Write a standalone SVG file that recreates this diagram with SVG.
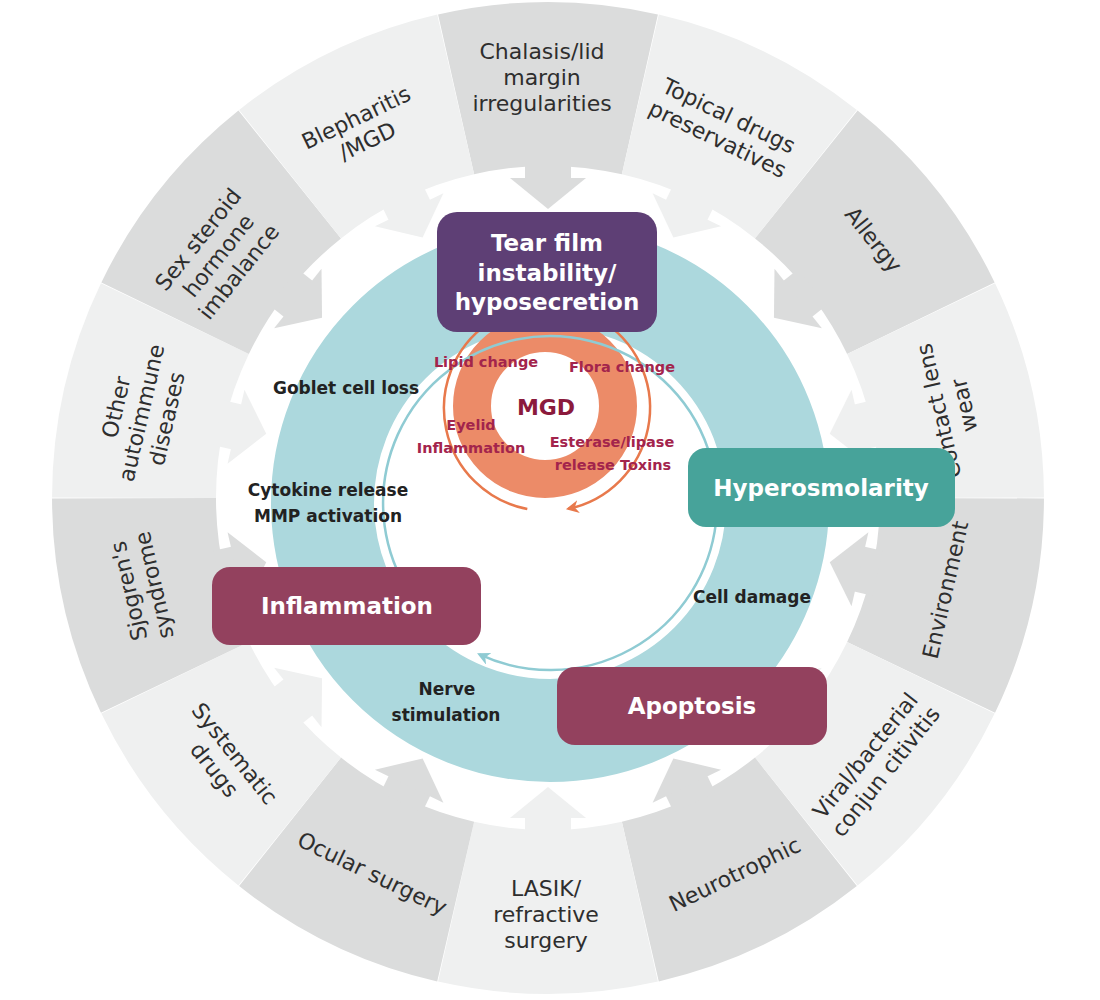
<svg xmlns="http://www.w3.org/2000/svg" width="1100" height="1000" viewBox="0 0 1100 1000">
<defs>
<style>
.dk{fill:#dbdcdc}
.lt{fill:#eff0f0}
.seg{font-family:"DejaVu Sans",sans-serif;font-size:22px;fill:#2e2e2e;text-anchor:middle}
.box{font-family:"DejaVu Sans",sans-serif;font-weight:bold;font-size:23px;fill:#ffffff;text-anchor:middle}
.lbl{font-family:"DejaVu Sans",sans-serif;font-weight:bold;font-size:17px;fill:#222222;text-anchor:middle}
.mg{font-family:"DejaVu Sans",sans-serif;font-weight:bold;font-size:14.5px;fill:#a3244c;text-anchor:middle}
</style>
<g id="arrowseg">
<path d="M438.08,14.38 A496,496 0 0 1 657.92,14.38 L621.88,174.32 A332,332 0 0 0 474.12,174.32 Z"/>
<rect x="525" y="160" width="46" height="24"/>
<polygon points="510,178 586,178 548,209"/>
</g>
<marker id="ht" viewBox="0 0 10 10" refX="8" refY="5" markerWidth="13" markerHeight="13" markerUnits="userSpaceOnUse" orient="auto"><path d="M0,0 L10,5 L0,10 L3,5 z" fill="#8fcbd3"/></marker>
<marker id="ho" viewBox="0 0 10 10" refX="8" refY="5" markerWidth="13" markerHeight="13" markerUnits="userSpaceOnUse" orient="auto"><path d="M0,0 L10,5 L0,10 L3,5 z" fill="#e8794c"/></marker>
</defs>
<rect width="1100" height="1000" fill="#ffffff"/>
<g id="segments">
<use href="#arrowseg" class="dk" transform="rotate(0 548 498)"/>
<use href="#arrowseg" class="lt" transform="rotate(25.714 548 498)"/>
<use href="#arrowseg" class="dk" transform="rotate(51.429 548 498)"/>
<use href="#arrowseg" class="lt" transform="rotate(77.143 548 498)"/>
<use href="#arrowseg" class="dk" transform="rotate(102.857 548 498)"/>
<use href="#arrowseg" class="lt" transform="rotate(128.571 548 498)"/>
<use href="#arrowseg" class="dk" transform="rotate(154.286 548 498)"/>
<use href="#arrowseg" class="lt" transform="rotate(180 548 498)"/>
<use href="#arrowseg" class="dk" transform="rotate(205.714 548 498)"/>
<use href="#arrowseg" class="lt" transform="rotate(231.429 548 498)"/>
<use href="#arrowseg" class="dk" transform="rotate(257.143 548 498)"/>
<use href="#arrowseg" class="lt" transform="rotate(282.857 548 498)"/>
<use href="#arrowseg" class="dk" transform="rotate(308.571 548 498)"/>
<use href="#arrowseg" class="lt" transform="rotate(334.286 548 498)"/>
</g>
<g id="segment-labels">
<text class="seg" transform="translate(542 78)"><tspan x="0" y="-19">Chalasis/lid</tspan><tspan x="0" y="7">margin</tspan><tspan x="0" y="33">irregularities</tspan></text>
<text class="seg" transform="translate(723 128) rotate(25.714)"><tspan x="0" y="-6">Topical drugs</tspan><tspan x="0" y="20">preservatives</tspan></text>
<text class="seg" transform="translate(873 240) rotate(51.429)"><tspan x="0" y="7">Allergy</tspan></text>
<text class="seg" transform="translate(952 408) rotate(-102.857)"><tspan x="0" y="-6">Contact lens</tspan><tspan x="0" y="20">wear</tspan></text>
<text class="seg" transform="translate(946 590) rotate(-77.143)"><tspan x="0" y="7">Environment</tspan></text>
<text class="seg" transform="translate(876 764) rotate(-51.429)"><tspan x="0" y="-6">Viral/bacterial</tspan><tspan x="0" y="20">conjun citivitis</tspan></text>
<text class="seg" transform="translate(735 875) rotate(-25.714)"><tspan x="0" y="7">Neurotrophic</tspan></text>
<text class="seg" transform="translate(546 915)"><tspan x="0" y="-19">LASIK/</tspan><tspan x="0" y="7">refractive</tspan><tspan x="0" y="33">surgery</tspan></text>
<text class="seg" transform="translate(372 874) rotate(25.714)"><tspan x="0" y="7">Ocular surgery</tspan></text>
<text class="seg" transform="translate(224 762) rotate(51.429)"><tspan x="0" y="-6">Systematic</tspan><tspan x="0" y="20">drugs</tspan></text>
<text class="seg" transform="translate(142 588) rotate(-102.857)"><tspan x="0" y="-6">Sjogren's</tspan><tspan x="0" y="20">syndrome</tspan></text>
<text class="seg" transform="translate(142 413) rotate(-77.143)"><tspan x="0" y="-19">Other</tspan><tspan x="0" y="7">autoimmune</tspan><tspan x="0" y="33">diseases</tspan></text>
<text class="seg" transform="translate(219 256) rotate(-51.429)"><tspan x="0" y="-19">Sex steroid</tspan><tspan x="0" y="7">hormone</tspan><tspan x="0" y="33">imbalance</tspan></text>
<text class="seg" transform="translate(362 130) rotate(-25.714)"><tspan x="0" y="-6">Blepharitis</tspan><tspan x="0" y="20">/MGD</tspan></text>
</g>
<g id="cycle-ring">
<circle cx="550" cy="503" r="227.5" fill="none" stroke="#acd8dd" stroke-width="103"/>
</g>
<g id="mgd">
<circle cx="545" cy="406" r="73" fill="none" stroke="#ec8b68" stroke-width="38"/>
</g>
<g id="connectors" fill="none">
<path d="M405.4,586.5 A167,167 0 1 1 479.4,654.4" stroke="#8fcbd3" stroke-width="2.5" marker-end="url(#ht)"/>
<path d="M487.9,323.6 A103,103 0 0 0 527.3,509.1" stroke="#e8794c" stroke-width="2.5"/>
<path d="M606.1,323.6 A103,103 0 0 1 568.4,508.75" stroke="#e8794c" stroke-width="2.5" marker-end="url(#ho)"/>
</g>
<g id="node-tear">
<rect x="437" y="212" width="220" height="120" rx="20" fill="#5e3f75"/>
<text class="box"><tspan x="547" y="251">Tear film</tspan><tspan x="547" y="281">instability/</tspan><tspan x="547" y="310">hyposecretion</tspan></text>
</g>
<g id="node-hyper">
<rect x="688" y="448" width="267" height="79" rx="18" fill="#47a39a"/>
<text class="box" x="821" y="496">Hyperosmolarity</text>
</g>
<g id="node-inflammation">
<rect x="212" y="567" width="269" height="78" rx="18" fill="#93415e"/>
<text class="box" x="347" y="614">Inflammation</text>
</g>
<g id="node-apoptosis">
<rect x="557" y="667" width="270" height="78" rx="18" fill="#93415e"/>
<text class="box" x="692" y="714">Apoptosis</text>
</g>
<g id="cycle-labels">
<text class="lbl" x="346" y="394">Goblet cell loss</text>
<text class="lbl" x="328" y="496">Cytokine release</text>
<text class="lbl" x="328" y="522">MMP activation</text>
<text class="lbl" x="752" y="603">Cell damage</text>
<text class="lbl" x="447" y="695">Nerve</text>
<text class="lbl" x="446" y="721">stimulation</text>
</g>
<g id="mgd-labels">
<text x="546" y="415" font-family="DejaVu Sans, sans-serif" font-weight="bold" font-size="22" fill="#8b1a3c" text-anchor="middle">MGD</text>
<text class="mg" x="486" y="367">Lipid change</text>
<text class="mg" x="622" y="372">Flora change</text>
<text class="mg" x="471" y="430">Eyelid</text>
<text class="mg" x="471" y="453">Inflammation</text>
<text class="mg" x="612" y="447">Esterase/lipase</text>
<text class="mg" x="613" y="470">release Toxins</text>
</g>
</svg>
